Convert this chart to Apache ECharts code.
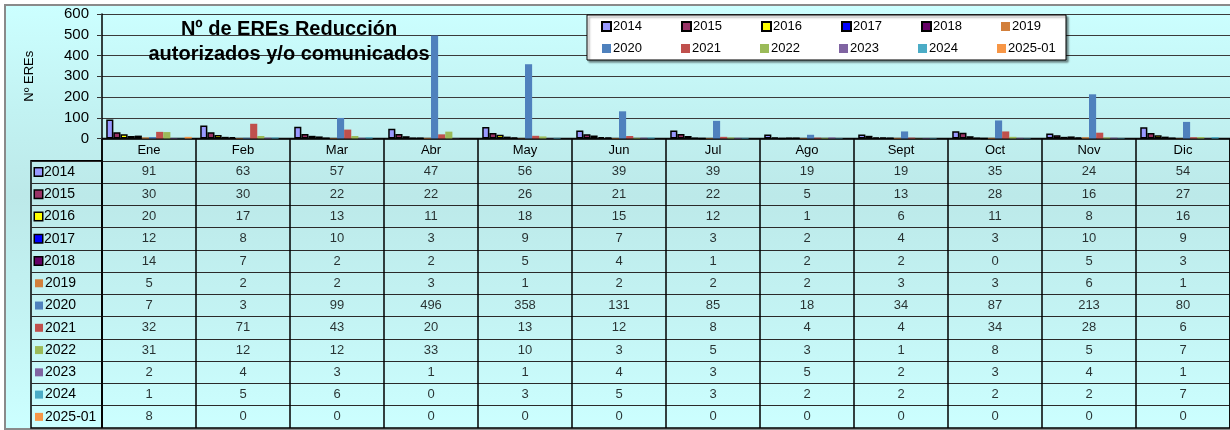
<!DOCTYPE html>
<html>
<head>
<meta charset="utf-8">
<script src="https://cdn.jsdelivr.net/npm/echarts@6/dist/echarts.min.js"></script>
<style>
html,body{margin:0;padding:0;overflow:hidden;background:#fff;width:1230px;height:430px;}
#bg{position:absolute;left:4px;top:4px;width:1240px;height:426px;box-sizing:border-box;border:2px solid #8a8a8a;
background:linear-gradient(to bottom,#ccffff 0%,#c2f2f2 25%,#bce9e9 45%,#c4f4f4 75%,#ccffff 100%);}
#chart{position:absolute;left:0;top:0;width:1230px;height:430px;}
</style>
</head>
<body>
<div id="bg"></div>
<div id="chart"></div>
<script>
const months = ['Ene','Feb','Mar','Abr','May','Jun','Jul','Ago','Sept','Oct','Nov','Dic'];
const years = ['2014','2015','2016','2017','2018','2019','2020','2021','2022','2023','2024','2025-01'];
const v2014 = [91,63,57,47,56,39,39,19,19,35,24,54];
const v2015 = [30,30,22,22,26,21,22,5,13,28,16,27];
const v2016 = [20,17,13,11,18,15,12,1,6,11,8,16];
const v2017 = [12,8,10,3,9,7,3,2,4,3,10,9];
const v2018 = [14,7,2,2,5,4,1,2,2,0,5,3];
const v2019 = [5,2,2,3,1,2,2,2,3,3,6,1];
const v2020 = [7,3,99,496,358,131,85,18,34,87,213,80];
const v2021 = [32,71,43,20,13,12,8,4,4,34,28,6];
const v2022 = [31,12,12,33,10,3,5,3,1,8,5,7];
const v2023 = [2,4,3,1,1,4,3,5,2,3,4,1];
const v2024 = [1,5,6,0,3,5,3,2,2,2,2,7];
const v2025 = [8,0,0,0,0,0,0,0,0,0,0,0];
const yTicks = [0,100,200,300,400,500,600];

const seriesValues = [v2014,v2015,v2016,v2017,v2018,v2019,v2020,v2021,v2022,v2023,v2024,v2025];
const colors = ['#9999FF','#993366','#FFFF00','#0000FF','#660066','#D27F3B','#4F81BD','#C0504D','#9BBB59','#8064A2','#4BACC6','#F79646'];
const bordered = [true,true,true,true,true,false,false,false,false,false,false,false];

const chart = echarts.init(document.getElementById('chart'), null, {renderer:'canvas'});

const barSeries = years.map((y,i)=>({
  name: y, type:'bar', xAxisIndex:0, yAxisIndex:0,
  data: seriesValues[i],
  barGap: '0%', barCategoryGap: '9%',
  itemStyle: bordered[i] ? {color: colors[i], borderColor:'#000', borderWidth:1.5} : {color: colors[i]},
  animation:false
}));

const tableData = [];
years.forEach((y,i)=>{ months.forEach((m,j)=>{ tableData.push([m, y, seriesValues[i][j]]); }); });

const font = 'Liberation Sans, Arial, sans-serif';

const rich = { t: {fontSize:14, color:'#000', fontFamily:font, padding:[0,0,0,2]} };
years.forEach((y,i)=>{
  rich['m'+i] = bordered[i]
    ? {width:7, height:7, backgroundColor:colors[i], borderColor:'#000', borderWidth:1.5}
    : {width:8, height:8, backgroundColor:colors[i]};
});

const legText = (w)=>({width:w, fontSize:13, color:'#000', lineHeight:15, fontFamily:font, padding:[0,0,0,-3]});
const legendData = years.slice(0,6).map((y,i)=>({name:y, textStyle:legText(i===5?48:61)}))
  .concat([''])
  .concat(years.slice(6).map((y,i)=>({name:y, textStyle:legText(i===5?48:61)})));

chart.setOption({
  backgroundColor:'transparent',
  textStyle:{fontFamily:font},
  animation:false,
  title:{
    text:'Nº de EREs Reducción\nautorizados y/o comunicados',
    left:284, top:12, textAlign:'center',
    textStyle:{fontSize:20, fontWeight:'bold', color:'#000', lineHeight:25, fontFamily:font}
  },
  legend:{
    data: legendData,
    left:587, top:15,
    orient:'horizontal',
    padding:[4,6,4,14],
    itemWidth:9, itemHeight:9, itemGap:7,
    icon:'rect',
    backgroundColor:'#fff', borderColor:'#000', borderWidth:1,
    shadowColor:'rgba(0,0,0,0.45)', shadowBlur:2, shadowOffsetX:2, shadowOffsetY:2,
    textStyle:legText(61),
    selectedMode:false
  },
  grid:[
    {left:102, top:14, width:1128, height:124.5, containLabel:false},
    {left:102, top:138.5, width:1128, height:289.5, show:true, borderColor:'#000', borderWidth:1.5},
    {left:31, top:160.8, width:71, height:267.2, show:true, borderColor:'#000', borderWidth:1.5}
  ],
  xAxis:[
    {gridIndex:0, type:'category', data:months,
      axisLine:{show:true, lineStyle:{color:'#000', width:1.5}}, axisTick:{show:false},
      axisLabel:{fontSize:13, color:'#000', margin:5, fontFamily:font}},
    {gridIndex:1, type:'category', data:months, axisLine:{show:false}, axisTick:{show:false}, axisLabel:{show:false},
      splitLine:{show:true, lineStyle:{color:'#000', width:1.5}}},
    {gridIndex:2, type:'value', show:false}
  ],
  yAxis:[
    {gridIndex:0, type:'value', min:0, max:600, interval:100,
      name:'Nº EREs', nameLocation:'middle', nameRotate:90, nameGap:66,
      nameTextStyle:{fontSize:13, color:'#000', fontFamily:font},
      axisLine:{show:true, lineStyle:{color:'#000', width:1.5}},
      axisTick:{show:true, length:5, lineStyle:{color:'#333'}},
      axisLabel:{fontSize:15, color:'#000', margin:13, fontFamily:font,
        formatter:(v)=> yTicks.indexOf(v)>=0 ? String(v) : ''},
      splitLine:{show:true, lineStyle:{color:'#3a3a3a', width:1}}},
    {gridIndex:1, type:'category', inverse:true, data:['hdr'].concat(years),
      axisLine:{show:false}, axisTick:{show:false}, axisLabel:{show:false},
      splitLine:{show:true, lineStyle:{color:'#2a2a2a', width:1}}},
    {gridIndex:2, type:'category', inverse:true, data:years,
      axisLine:{show:false}, axisTick:{show:false},
      axisLabel:{show:true, inside:true, margin:4, align:'left',
        formatter:(v)=>{ const i = years.indexOf(v); return '{m'+i+'| }{t|'+v+'}'; }, rich: rich},
      splitLine:{show:true, lineStyle:{color:'#2a2a2a', width:1}}}
  ],
  series: barSeries.concat([{
    type:'scatter', name:'tabla', xAxisIndex:1, yAxisIndex:1, data:tableData,
    symbolSize:1, itemStyle:{color:'rgba(0,0,0,0)'}, silent:true,
    label:{show:true, position:'inside', fontSize:13, color:'#000', fontFamily:font,
      formatter:(p)=> String(p.value[2])}
  }])
});
</script>
</body>
</html>
